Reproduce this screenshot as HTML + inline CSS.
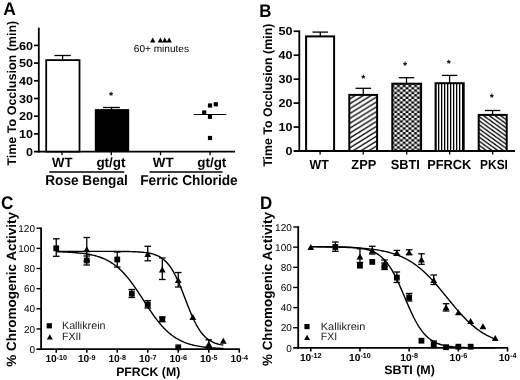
<!DOCTYPE html>
<html lang="en">
<head>
<meta charset="utf-8">
<title>Figure</title>
<style>
html,body{margin:0;padding:0;background:#fff;}
body{width:520px;height:380px;overflow:hidden;}
svg{display:block;filter:grayscale(1);}
text{text-rendering:geometricPrecision;}
</style>
</head>
<body>
<svg width="520" height="380" viewBox="0 0 520 380">
<rect x="0" y="0" width="520" height="380" fill="#fff"/>
<g opacity="0.999">
<defs>
<pattern id="pz" width="7.9" height="4.9" patternUnits="userSpaceOnUse" x="349.9" y="98.8">
<rect width="7.9" height="4.9" fill="#fff"/>
<path d="M-7.9,9.8 L15.8,-4.9 M-7.9,4.9 L7.9,-4.9 M0,9.8 L15.8,0" stroke="#000" stroke-width="1.4"/>
</pattern>
<pattern id="pk" width="5.7" height="4.1" patternUnits="userSpaceOnUse" x="479.7" y="117.0">
<rect width="5.7" height="4.1" fill="#fff"/>
<path d="M-5.7,-4.1 L11.4,8.2 M-5.7,0 L5.7,8.2 M0,-4.1 L11.4,4.1" stroke="#000" stroke-width="1.3"/>
</pattern>
<pattern id="pc" width="5.7" height="4.74" patternUnits="userSpaceOnUse" x="392.75" y="84.7">
<rect width="5.7" height="4.74" fill="#000"/>
<rect x="1.45" y="0" width="2.85" height="2.37" fill="#fff"/>
<rect x="4.3" y="2.37" width="1.4" height="2.37" fill="#fff"/>
<rect x="0" y="2.37" width="1.45" height="2.37" fill="#fff"/>
</pattern>
<pattern id="pv" width="3" height="4" patternUnits="userSpaceOnUse" x="438" y="0">
<rect width="3" height="4" fill="#fff"/>
<rect x="0" y="0" width="1.3" height="4" fill="#000"/>
</pattern>
</defs>
<text x="3.20" y="15.30" font-size="18.2" font-family="'Liberation Sans', sans-serif" font-weight="bold" text-anchor="start" fill="#000" textLength="12.6" lengthAdjust="spacingAndGlyphs">A</text>
<line x1="38.80" y1="27.70" x2="38.80" y2="152.50" stroke="#000" stroke-width="1.8" stroke-linecap="butt"/>
<line x1="34.00" y1="151.60" x2="235.00" y2="151.60" stroke="#000" stroke-width="1.8" stroke-linecap="butt"/>
<text x="33.00" y="155.70" font-size="11.6" font-family="'Liberation Sans', sans-serif" font-weight="bold" text-anchor="end" fill="#000" textLength="7.0" lengthAdjust="spacingAndGlyphs">0</text>
<line x1="34.00" y1="133.90" x2="38.80" y2="133.90" stroke="#000" stroke-width="1.7" stroke-linecap="butt"/>
<text x="33.00" y="138.00" font-size="11.6" font-family="'Liberation Sans', sans-serif" font-weight="bold" text-anchor="end" fill="#000" textLength="14.0" lengthAdjust="spacingAndGlyphs">10</text>
<line x1="34.00" y1="116.20" x2="38.80" y2="116.20" stroke="#000" stroke-width="1.7" stroke-linecap="butt"/>
<text x="33.00" y="120.30" font-size="11.6" font-family="'Liberation Sans', sans-serif" font-weight="bold" text-anchor="end" fill="#000" textLength="14.0" lengthAdjust="spacingAndGlyphs">20</text>
<line x1="34.00" y1="98.50" x2="38.80" y2="98.50" stroke="#000" stroke-width="1.7" stroke-linecap="butt"/>
<text x="33.00" y="102.60" font-size="11.6" font-family="'Liberation Sans', sans-serif" font-weight="bold" text-anchor="end" fill="#000" textLength="14.0" lengthAdjust="spacingAndGlyphs">30</text>
<line x1="34.00" y1="80.80" x2="38.80" y2="80.80" stroke="#000" stroke-width="1.7" stroke-linecap="butt"/>
<text x="33.00" y="84.90" font-size="11.6" font-family="'Liberation Sans', sans-serif" font-weight="bold" text-anchor="end" fill="#000" textLength="14.0" lengthAdjust="spacingAndGlyphs">40</text>
<line x1="34.00" y1="63.10" x2="38.80" y2="63.10" stroke="#000" stroke-width="1.7" stroke-linecap="butt"/>
<text x="33.00" y="67.20" font-size="11.6" font-family="'Liberation Sans', sans-serif" font-weight="bold" text-anchor="end" fill="#000" textLength="14.0" lengthAdjust="spacingAndGlyphs">50</text>
<line x1="34.00" y1="45.40" x2="38.80" y2="45.40" stroke="#000" stroke-width="1.7" stroke-linecap="butt"/>
<text x="33.00" y="49.50" font-size="11.6" font-family="'Liberation Sans', sans-serif" font-weight="bold" text-anchor="end" fill="#000" textLength="14.0" lengthAdjust="spacingAndGlyphs">60</text>
<text x="16.40" y="93.20" font-size="12.5" font-family="'Liberation Sans', sans-serif" font-weight="bold" text-anchor="middle" fill="#000" textLength="145" lengthAdjust="spacingAndGlyphs" transform="rotate(-90 16.40 93.20)">Time To Occlusion (min)</text>
<rect x="46.20" y="60.10" width="33.30" height="91.50" fill="#fff" stroke="#000" stroke-width="1.8"/>
<line x1="62.60" y1="55.50" x2="62.60" y2="60.10" stroke="#000" stroke-width="1.3" stroke-linecap="butt"/>
<line x1="54.40" y1="55.50" x2="70.80" y2="55.50" stroke="#000" stroke-width="1.3" stroke-linecap="butt"/>
<rect x="94.80" y="109.10" width="34.40" height="42.50" fill="#000"/>
<line x1="111.50" y1="107.50" x2="111.50" y2="109.60" stroke="#000" stroke-width="1.3" stroke-linecap="butt"/>
<line x1="103.10" y1="107.50" x2="119.90" y2="107.50" stroke="#000" stroke-width="1.3" stroke-linecap="butt"/>
<text x="111.00" y="98.70" font-size="10.5" font-family="'Liberation Sans', sans-serif" font-weight="bold" text-anchor="middle" fill="#000">*</text>
<line x1="62.00" y1="151.60" x2="62.00" y2="155.20" stroke="#000" stroke-width="1.3" stroke-linecap="butt"/>
<line x1="111.30" y1="151.60" x2="111.30" y2="155.20" stroke="#000" stroke-width="1.3" stroke-linecap="butt"/>
<line x1="160.50" y1="151.60" x2="160.50" y2="155.20" stroke="#000" stroke-width="1.3" stroke-linecap="butt"/>
<line x1="210.00" y1="151.60" x2="210.00" y2="155.20" stroke="#000" stroke-width="1.3" stroke-linecap="butt"/>
<text x="62.30" y="166.60" font-size="13.6" font-family="'Liberation Sans', sans-serif" font-weight="bold" text-anchor="middle" fill="#000" textLength="20.4" lengthAdjust="spacingAndGlyphs">WT</text>
<text x="111.00" y="166.60" font-size="13.6" font-family="'Liberation Sans', sans-serif" font-weight="bold" text-anchor="middle" fill="#000" textLength="29.2" lengthAdjust="spacingAndGlyphs">gt/gt</text>
<text x="163.20" y="166.60" font-size="13.6" font-family="'Liberation Sans', sans-serif" font-weight="bold" text-anchor="middle" fill="#000" textLength="20.8" lengthAdjust="spacingAndGlyphs">WT</text>
<text x="211.80" y="166.60" font-size="13.6" font-family="'Liberation Sans', sans-serif" font-weight="bold" text-anchor="middle" fill="#000" textLength="29.0" lengthAdjust="spacingAndGlyphs">gt/gt</text>
<line x1="49.30" y1="172.10" x2="124.30" y2="172.10" stroke="#000" stroke-width="1.5" stroke-linecap="butt"/>
<line x1="149.50" y1="172.10" x2="222.50" y2="172.10" stroke="#000" stroke-width="1.5" stroke-linecap="butt"/>
<text x="86.50" y="185.30" font-size="14.2" font-family="'Liberation Sans', sans-serif" font-weight="bold" text-anchor="middle" fill="#000" textLength="82.5" lengthAdjust="spacingAndGlyphs">Rose Bengal</text>
<text x="189.00" y="185.30" font-size="14.2" font-family="'Liberation Sans', sans-serif" font-weight="bold" text-anchor="middle" fill="#000" textLength="97.5" lengthAdjust="spacingAndGlyphs">Ferric Chloride</text>
<polygon points="150.00,42.40 155.40,42.40 152.70,37.40" fill="#000"/>
<polygon points="157.70,42.40 163.10,42.40 160.40,37.40" fill="#000"/>
<polygon points="162.10,42.40 167.50,42.40 164.80,37.40" fill="#000"/>
<polygon points="166.50,42.40 171.90,42.40 169.20,37.40" fill="#000"/>
<text x="133.80" y="52.00" font-size="10" font-family="'Liberation Sans', sans-serif" text-anchor="start" fill="#000" textLength="55.2" lengthAdjust="spacingAndGlyphs">60+ minutes</text>
<rect x="207.90" y="103.40" width="4.20" height="4.20" fill="#000"/>
<rect x="213.70" y="102.20" width="4.20" height="4.20" fill="#000"/>
<rect x="202.10" y="110.40" width="4.20" height="4.20" fill="#000"/>
<rect x="207.90" y="114.70" width="4.20" height="4.20" fill="#000"/>
<rect x="207.90" y="135.90" width="4.20" height="4.20" fill="#000"/>
<line x1="193.80" y1="114.50" x2="226.20" y2="114.50" stroke="#000" stroke-width="1.2" stroke-linecap="butt"/>
<text x="259.30" y="16.80" font-size="18.2" font-family="'Liberation Sans', sans-serif" font-weight="bold" text-anchor="start" fill="#000" textLength="12.2" lengthAdjust="spacingAndGlyphs">B</text>
<line x1="299.30" y1="30.40" x2="299.30" y2="151.90" stroke="#000" stroke-width="1.8" stroke-linecap="butt"/>
<line x1="293.60" y1="151.00" x2="515.00" y2="151.00" stroke="#000" stroke-width="1.8" stroke-linecap="butt"/>
<text x="292.60" y="154.90" font-size="11.6" font-family="'Liberation Sans', sans-serif" font-weight="bold" text-anchor="end" fill="#000" textLength="7.0" lengthAdjust="spacingAndGlyphs">0</text>
<line x1="293.60" y1="127.05" x2="299.30" y2="127.05" stroke="#000" stroke-width="1.7" stroke-linecap="butt"/>
<text x="292.60" y="130.95" font-size="11.6" font-family="'Liberation Sans', sans-serif" font-weight="bold" text-anchor="end" fill="#000" textLength="14.0" lengthAdjust="spacingAndGlyphs">10</text>
<line x1="293.60" y1="103.10" x2="299.30" y2="103.10" stroke="#000" stroke-width="1.7" stroke-linecap="butt"/>
<text x="292.60" y="107.00" font-size="11.6" font-family="'Liberation Sans', sans-serif" font-weight="bold" text-anchor="end" fill="#000" textLength="14.0" lengthAdjust="spacingAndGlyphs">20</text>
<line x1="293.60" y1="79.15" x2="299.30" y2="79.15" stroke="#000" stroke-width="1.7" stroke-linecap="butt"/>
<text x="292.60" y="83.05" font-size="11.6" font-family="'Liberation Sans', sans-serif" font-weight="bold" text-anchor="end" fill="#000" textLength="14.0" lengthAdjust="spacingAndGlyphs">30</text>
<line x1="293.60" y1="55.20" x2="299.30" y2="55.20" stroke="#000" stroke-width="1.7" stroke-linecap="butt"/>
<text x="292.60" y="59.10" font-size="11.6" font-family="'Liberation Sans', sans-serif" font-weight="bold" text-anchor="end" fill="#000" textLength="14.0" lengthAdjust="spacingAndGlyphs">40</text>
<line x1="293.60" y1="31.25" x2="299.30" y2="31.25" stroke="#000" stroke-width="1.7" stroke-linecap="butt"/>
<text x="292.60" y="35.15" font-size="11.6" font-family="'Liberation Sans', sans-serif" font-weight="bold" text-anchor="end" fill="#000" textLength="14.0" lengthAdjust="spacingAndGlyphs">50</text>
<text x="272.00" y="95.20" font-size="12.5" font-family="'Liberation Sans', sans-serif" font-weight="bold" text-anchor="middle" fill="#000" textLength="143" lengthAdjust="spacingAndGlyphs" transform="rotate(-90 272.00 95.20)">Time To Occlusion (min)</text>
<rect x="306.10" y="36.40" width="28.00" height="114.60" fill="#fff" stroke="#000" stroke-width="2.0"/>
<line x1="320.30" y1="32.10" x2="320.30" y2="36.40" stroke="#000" stroke-width="1.3" stroke-linecap="butt"/>
<line x1="312.55" y1="32.10" x2="328.05" y2="32.10" stroke="#000" stroke-width="1.3" stroke-linecap="butt"/>
<line x1="320.10" y1="151.00" x2="320.10" y2="154.60" stroke="#000" stroke-width="1.3" stroke-linecap="butt"/>
<text x="319.20" y="169.00" font-size="13.2" font-family="'Liberation Sans', sans-serif" font-weight="bold" text-anchor="middle" fill="#000" textLength="19.2" lengthAdjust="spacingAndGlyphs">WT</text>
<rect x="349.30" y="94.90" width="27.80" height="56.10" fill="url(#pz)" stroke="#000" stroke-width="2.0"/>
<line x1="363.30" y1="88.30" x2="363.30" y2="94.90" stroke="#000" stroke-width="1.3" stroke-linecap="butt"/>
<line x1="355.55" y1="88.30" x2="371.05" y2="88.30" stroke="#000" stroke-width="1.3" stroke-linecap="butt"/>
<line x1="363.20" y1="151.00" x2="363.20" y2="154.60" stroke="#000" stroke-width="1.3" stroke-linecap="butt"/>
<text x="363.30" y="81.60" font-size="10.5" font-family="'Liberation Sans', sans-serif" font-weight="bold" text-anchor="middle" fill="#000">*</text>
<text x="363.80" y="169.00" font-size="13.2" font-family="'Liberation Sans', sans-serif" font-weight="bold" text-anchor="middle" fill="#000" textLength="25.0" lengthAdjust="spacingAndGlyphs">ZPP</text>
<rect x="392.30" y="83.70" width="28.80" height="67.30" fill="url(#pc)" stroke="#000" stroke-width="2.0"/>
<line x1="406.50" y1="77.70" x2="406.50" y2="83.70" stroke="#000" stroke-width="1.3" stroke-linecap="butt"/>
<line x1="398.75" y1="77.70" x2="414.25" y2="77.70" stroke="#000" stroke-width="1.3" stroke-linecap="butt"/>
<line x1="406.70" y1="151.00" x2="406.70" y2="154.60" stroke="#000" stroke-width="1.3" stroke-linecap="butt"/>
<text x="405.00" y="68.60" font-size="10.5" font-family="'Liberation Sans', sans-serif" font-weight="bold" text-anchor="middle" fill="#000">*</text>
<text x="405.30" y="169.00" font-size="13.2" font-family="'Liberation Sans', sans-serif" font-weight="bold" text-anchor="middle" fill="#000" textLength="29.2" lengthAdjust="spacingAndGlyphs">SBTI</text>
<rect x="435.60" y="83.20" width="28.10" height="67.80" fill="url(#pv)" stroke="#000" stroke-width="2.0"/>
<line x1="449.60" y1="75.40" x2="449.60" y2="83.20" stroke="#000" stroke-width="1.3" stroke-linecap="butt"/>
<line x1="441.85" y1="75.40" x2="457.35" y2="75.40" stroke="#000" stroke-width="1.3" stroke-linecap="butt"/>
<line x1="449.65" y1="151.00" x2="449.65" y2="154.60" stroke="#000" stroke-width="1.3" stroke-linecap="butt"/>
<text x="448.80" y="66.60" font-size="10.5" font-family="'Liberation Sans', sans-serif" font-weight="bold" text-anchor="middle" fill="#000">*</text>
<text x="449.30" y="169.00" font-size="13.2" font-family="'Liberation Sans', sans-serif" font-weight="bold" text-anchor="middle" fill="#000" textLength="44.2" lengthAdjust="spacingAndGlyphs">PFRCK</text>
<rect x="478.70" y="114.90" width="28.00" height="36.10" fill="url(#pk)" stroke="#000" stroke-width="2.0"/>
<line x1="492.60" y1="110.50" x2="492.60" y2="114.90" stroke="#000" stroke-width="1.3" stroke-linecap="butt"/>
<line x1="484.85" y1="110.50" x2="500.35" y2="110.50" stroke="#000" stroke-width="1.3" stroke-linecap="butt"/>
<line x1="492.70" y1="151.00" x2="492.70" y2="154.60" stroke="#000" stroke-width="1.3" stroke-linecap="butt"/>
<text x="491.80" y="101.40" font-size="10.5" font-family="'Liberation Sans', sans-serif" font-weight="bold" text-anchor="middle" fill="#000">*</text>
<text x="494.00" y="169.00" font-size="13.2" font-family="'Liberation Sans', sans-serif" font-weight="bold" text-anchor="middle" fill="#000" textLength="27.8" lengthAdjust="spacingAndGlyphs">PKSI</text>
<text x="1.10" y="208.90" font-size="18.3" font-family="'Liberation Sans', sans-serif" font-weight="bold" text-anchor="start" fill="#000" textLength="12.4" lengthAdjust="spacingAndGlyphs">C</text>
<line x1="41.10" y1="227.40" x2="41.10" y2="350.00" stroke="#000" stroke-width="1.8" stroke-linecap="butt"/>
<line x1="36.50" y1="349.10" x2="239.90" y2="349.10" stroke="#000" stroke-width="1.8" stroke-linecap="butt"/>
<text x="35.00" y="352.70" font-size="10" font-family="'Liberation Sans', sans-serif" text-anchor="end" fill="#000">0</text>
<line x1="36.50" y1="328.95" x2="41.10" y2="328.95" stroke="#000" stroke-width="1.4" stroke-linecap="butt"/>
<text x="35.00" y="332.55" font-size="10" font-family="'Liberation Sans', sans-serif" text-anchor="end" fill="#000">20</text>
<line x1="36.50" y1="308.80" x2="41.10" y2="308.80" stroke="#000" stroke-width="1.4" stroke-linecap="butt"/>
<text x="35.00" y="312.40" font-size="10" font-family="'Liberation Sans', sans-serif" text-anchor="end" fill="#000">40</text>
<line x1="36.50" y1="288.65" x2="41.10" y2="288.65" stroke="#000" stroke-width="1.4" stroke-linecap="butt"/>
<text x="35.00" y="292.25" font-size="10" font-family="'Liberation Sans', sans-serif" text-anchor="end" fill="#000">60</text>
<line x1="36.50" y1="268.50" x2="41.10" y2="268.50" stroke="#000" stroke-width="1.4" stroke-linecap="butt"/>
<text x="35.00" y="272.10" font-size="10" font-family="'Liberation Sans', sans-serif" text-anchor="end" fill="#000">80</text>
<line x1="36.50" y1="248.35" x2="41.10" y2="248.35" stroke="#000" stroke-width="1.4" stroke-linecap="butt"/>
<text x="35.00" y="251.95" font-size="10" font-family="'Liberation Sans', sans-serif" text-anchor="end" fill="#000">100</text>
<line x1="36.50" y1="228.20" x2="41.10" y2="228.20" stroke="#000" stroke-width="1.4" stroke-linecap="butt"/>
<text x="35.00" y="231.80" font-size="10" font-family="'Liberation Sans', sans-serif" text-anchor="end" fill="#000">120</text>
<text x="15.60" y="289.30" font-size="13.5" font-family="'Liberation Sans', sans-serif" font-weight="bold" text-anchor="middle" fill="#000" textLength="154.7" lengthAdjust="spacingAndGlyphs" transform="rotate(-90 15.60 289.30)">% Chromogenic Activity</text>
<line x1="56.25" y1="349.10" x2="56.25" y2="352.70" stroke="#000" stroke-width="1.6" stroke-linecap="butt"/>
<text x="45.38" y="362.40" font-size="10.2" font-family="'Liberation Sans', sans-serif" font-weight="bold" fill="#000">10<tspan font-size="7.2" dy="-2.9">-10</tspan></text>
<line x1="86.75" y1="349.10" x2="86.75" y2="352.70" stroke="#000" stroke-width="1.6" stroke-linecap="butt"/>
<text x="77.88" y="362.40" font-size="10.2" font-family="'Liberation Sans', sans-serif" font-weight="bold" fill="#000">10<tspan font-size="7.2" dy="-2.9">-9</tspan></text>
<line x1="117.25" y1="349.10" x2="117.25" y2="352.70" stroke="#000" stroke-width="1.6" stroke-linecap="butt"/>
<text x="108.38" y="362.40" font-size="10.2" font-family="'Liberation Sans', sans-serif" font-weight="bold" fill="#000">10<tspan font-size="7.2" dy="-2.9">-8</tspan></text>
<line x1="147.75" y1="349.10" x2="147.75" y2="352.70" stroke="#000" stroke-width="1.6" stroke-linecap="butt"/>
<text x="138.88" y="362.40" font-size="10.2" font-family="'Liberation Sans', sans-serif" font-weight="bold" fill="#000">10<tspan font-size="7.2" dy="-2.9">-7</tspan></text>
<line x1="178.25" y1="349.10" x2="178.25" y2="352.70" stroke="#000" stroke-width="1.6" stroke-linecap="butt"/>
<text x="169.38" y="362.40" font-size="10.2" font-family="'Liberation Sans', sans-serif" font-weight="bold" fill="#000">10<tspan font-size="7.2" dy="-2.9">-6</tspan></text>
<line x1="208.75" y1="349.10" x2="208.75" y2="352.70" stroke="#000" stroke-width="1.6" stroke-linecap="butt"/>
<text x="199.88" y="362.40" font-size="10.2" font-family="'Liberation Sans', sans-serif" font-weight="bold" fill="#000">10<tspan font-size="7.2" dy="-2.9">-5</tspan></text>
<line x1="239.25" y1="349.10" x2="239.25" y2="352.70" stroke="#000" stroke-width="1.6" stroke-linecap="butt"/>
<text x="230.38" y="362.40" font-size="10.2" font-family="'Liberation Sans', sans-serif" font-weight="bold" fill="#000">10<tspan font-size="7.2" dy="-2.9">-4</tspan></text>
<text x="148.20" y="375.80" font-size="12.3" font-family="'Liberation Sans', sans-serif" font-weight="bold" text-anchor="middle" fill="#000" textLength="64.1" lengthAdjust="spacingAndGlyphs">PFRCK (M)</text>
<rect x="46.70" y="323.20" width="5.20" height="5.20" fill="#000"/>
<polygon points="46.80,339.40 52.80,339.40 49.80,334.20" fill="#000"/>
<text x="62.00" y="329.20" font-size="10.5" font-family="'Liberation Sans', sans-serif" text-anchor="start" fill="#222" textLength="43.5" lengthAdjust="spacingAndGlyphs">Kallikrein</text>
<text x="62.00" y="340.10" font-size="10.5" font-family="'Liberation Sans', sans-serif" text-anchor="start" fill="#222">FXII</text>
<polyline points="56.25,251.76 57.64,251.79 59.04,251.83 60.43,251.87 61.82,251.92 63.21,251.97 64.61,252.03 66.00,252.09 67.39,252.15 68.79,252.22 70.18,252.30 71.57,252.38 72.96,252.48 74.36,252.58 75.75,252.69 77.14,252.81 78.54,252.94 79.93,253.08 81.32,253.23 82.71,253.40 84.11,253.58 85.50,253.78 86.89,254.00 88.29,254.24 89.68,254.49 91.07,254.77 92.46,255.07 93.86,255.40 95.25,255.76 96.64,256.14 98.04,256.56 99.43,257.01 100.82,257.50 102.21,258.02 103.61,258.59 105.00,259.21 106.39,259.87 107.78,260.58 109.18,261.34 110.57,262.16 111.96,263.04 113.36,263.97 114.75,264.98 116.14,266.04 117.53,267.18 118.93,268.38 120.32,269.66 121.71,271.01 123.11,272.43 124.50,273.93 125.89,275.50 127.28,277.14 128.68,278.85 130.07,280.63 131.46,282.47 132.86,284.37 134.25,286.33 135.64,288.34 137.03,290.39 138.43,292.47 139.82,294.59 141.21,296.73 142.61,298.88 144.00,301.04 145.39,303.19 146.78,305.34 148.18,307.46 149.57,309.56 150.96,311.62 152.36,313.64 153.75,315.61 155.14,317.52 156.53,319.38 157.93,321.18 159.32,322.90 160.71,324.56 162.11,326.15 163.50,327.66 164.89,329.10 166.28,330.47 167.68,331.77 169.07,332.99 170.46,334.15 171.86,335.23 173.25,336.25 174.64,337.20 176.03,338.10 177.43,338.93 178.82,339.71 180.21,340.43 181.61,341.10 183.00,341.73 184.39,342.31 185.78,342.85 187.18,343.34 188.57,343.80 189.96,344.23 191.35,344.62 192.75,344.98 194.14,345.32 195.53,345.63 196.93,345.91 198.32,346.17 199.71,346.41 201.10,346.63 202.50,346.84 203.89,347.03 205.28,347.20 206.68,347.36 208.07,347.50 209.46,347.63 210.85,347.76 212.25,347.87 213.64,347.97 215.03,348.07 216.43,348.15 217.82,348.23 219.21,348.30 220.60,348.37 222.00,348.43 223.39,348.49" fill="none" stroke="#000" stroke-width="1.4"/>
<polyline points="56.25,251.37 57.64,251.37 59.04,251.37 60.43,251.37 61.82,251.37 63.21,251.37 64.61,251.37 66.00,251.37 67.39,251.37 68.79,251.37 70.18,251.37 71.57,251.37 72.96,251.37 74.36,251.37 75.75,251.37 77.14,251.37 78.54,251.37 79.93,251.37 81.32,251.37 82.71,251.37 84.11,251.37 85.50,251.37 86.89,251.37 88.29,251.37 89.68,251.38 91.07,251.38 92.46,251.38 93.86,251.38 95.25,251.38 96.64,251.38 98.04,251.38 99.43,251.38 100.82,251.38 102.21,251.38 103.61,251.38 105.00,251.39 106.39,251.39 107.78,251.39 109.18,251.40 110.57,251.40 111.96,251.40 113.36,251.41 114.75,251.41 116.14,251.42 117.53,251.43 118.93,251.44 120.32,251.45 121.71,251.46 123.11,251.48 124.50,251.50 125.89,251.52 127.28,251.54 128.68,251.57 130.07,251.60 131.46,251.64 132.86,251.68 134.25,251.73 135.64,251.79 137.03,251.86 138.43,251.93 139.82,252.03 141.21,252.13 142.61,252.26 144.00,252.40 145.39,252.57 146.78,252.76 148.18,252.99 149.57,253.25 150.96,253.55 152.36,253.90 153.75,254.30 155.14,254.77 156.53,255.30 157.93,255.92 159.32,256.63 160.71,257.44 162.11,258.36 163.50,259.42 164.89,260.61 166.28,261.97 167.68,263.49 169.07,265.20 170.46,267.10 171.86,269.20 173.25,271.52 174.64,274.04 176.03,276.78 177.43,279.72 178.82,282.85 180.21,286.14 181.61,289.57 183.00,293.10 184.39,296.70 185.78,300.33 187.18,303.94 188.57,307.49 189.96,310.95 191.35,314.28 192.75,317.45 194.14,320.44 195.53,323.23 196.93,325.81 198.32,328.18 199.71,330.34 201.10,332.29 202.50,334.05 203.89,335.61 205.28,337.01 206.68,338.24 208.07,339.33 209.46,340.29 210.85,341.13 212.25,341.86 213.64,342.50 215.03,343.06 216.43,343.54 217.82,343.96 219.21,344.32 220.60,344.63 222.00,344.90 223.39,345.14" fill="none" stroke="#000" stroke-width="1.4"/>
<line x1="56.25" y1="238.80" x2="56.25" y2="256.30" stroke="#000" stroke-width="1.3" stroke-linecap="butt"/>
<line x1="52.95" y1="238.80" x2="59.55" y2="238.80" stroke="#000" stroke-width="1.3" stroke-linecap="butt"/>
<line x1="52.95" y1="256.30" x2="59.55" y2="256.30" stroke="#000" stroke-width="1.3" stroke-linecap="butt"/>
<rect x="53.35" y="245.40" width="5.80" height="5.80" fill="#000"/>
<line x1="86.75" y1="256.00" x2="86.75" y2="265.00" stroke="#000" stroke-width="1.3" stroke-linecap="butt"/>
<line x1="83.45" y1="256.00" x2="90.05" y2="256.00" stroke="#000" stroke-width="1.3" stroke-linecap="butt"/>
<line x1="83.45" y1="265.00" x2="90.05" y2="265.00" stroke="#000" stroke-width="1.3" stroke-linecap="butt"/>
<rect x="83.85" y="257.60" width="5.80" height="5.80" fill="#000"/>
<line x1="117.25" y1="252.00" x2="117.25" y2="267.00" stroke="#000" stroke-width="1.3" stroke-linecap="butt"/>
<line x1="113.95" y1="252.00" x2="120.55" y2="252.00" stroke="#000" stroke-width="1.3" stroke-linecap="butt"/>
<line x1="113.95" y1="267.00" x2="120.55" y2="267.00" stroke="#000" stroke-width="1.3" stroke-linecap="butt"/>
<rect x="114.35" y="256.60" width="5.80" height="5.80" fill="#000"/>
<line x1="131.80" y1="289.50" x2="131.80" y2="297.50" stroke="#000" stroke-width="1.3" stroke-linecap="butt"/>
<line x1="128.50" y1="289.50" x2="135.10" y2="289.50" stroke="#000" stroke-width="1.3" stroke-linecap="butt"/>
<line x1="128.50" y1="297.50" x2="135.10" y2="297.50" stroke="#000" stroke-width="1.3" stroke-linecap="butt"/>
<rect x="128.90" y="290.80" width="5.80" height="5.80" fill="#000"/>
<line x1="147.75" y1="300.60" x2="147.75" y2="308.00" stroke="#000" stroke-width="1.3" stroke-linecap="butt"/>
<line x1="144.45" y1="300.60" x2="151.05" y2="300.60" stroke="#000" stroke-width="1.3" stroke-linecap="butt"/>
<line x1="144.45" y1="308.00" x2="151.05" y2="308.00" stroke="#000" stroke-width="1.3" stroke-linecap="butt"/>
<rect x="144.85" y="301.60" width="5.80" height="5.80" fill="#000"/>
<line x1="162.30" y1="317.00" x2="162.30" y2="321.60" stroke="#000" stroke-width="1.3" stroke-linecap="butt"/>
<line x1="159.00" y1="317.00" x2="165.60" y2="317.00" stroke="#000" stroke-width="1.3" stroke-linecap="butt"/>
<line x1="159.00" y1="321.60" x2="165.60" y2="321.60" stroke="#000" stroke-width="1.3" stroke-linecap="butt"/>
<rect x="159.40" y="316.40" width="5.80" height="5.80" fill="#000"/>
<rect x="175.35" y="344.40" width="5.80" height="5.80" fill="#000"/>
<line x1="86.75" y1="237.50" x2="86.75" y2="261.00" stroke="#000" stroke-width="1.3" stroke-linecap="butt"/>
<line x1="83.45" y1="237.50" x2="90.05" y2="237.50" stroke="#000" stroke-width="1.3" stroke-linecap="butt"/>
<line x1="83.45" y1="261.00" x2="90.05" y2="261.00" stroke="#000" stroke-width="1.3" stroke-linecap="butt"/>
<polygon points="83.35,252.30 90.15,252.30 86.75,246.30" fill="#000"/>
<line x1="147.75" y1="246.30" x2="147.75" y2="260.80" stroke="#000" stroke-width="1.3" stroke-linecap="butt"/>
<line x1="144.45" y1="246.30" x2="151.05" y2="246.30" stroke="#000" stroke-width="1.3" stroke-linecap="butt"/>
<line x1="144.45" y1="260.80" x2="151.05" y2="260.80" stroke="#000" stroke-width="1.3" stroke-linecap="butt"/>
<polygon points="144.35,257.00 151.15,257.00 147.75,251.00" fill="#000"/>
<line x1="162.30" y1="258.00" x2="162.30" y2="279.50" stroke="#000" stroke-width="1.3" stroke-linecap="butt"/>
<line x1="159.00" y1="258.00" x2="165.60" y2="258.00" stroke="#000" stroke-width="1.3" stroke-linecap="butt"/>
<line x1="159.00" y1="279.50" x2="165.60" y2="279.50" stroke="#000" stroke-width="1.3" stroke-linecap="butt"/>
<polygon points="158.90,272.50 165.70,272.50 162.30,266.50" fill="#000"/>
<line x1="178.25" y1="272.50" x2="178.25" y2="287.00" stroke="#000" stroke-width="1.3" stroke-linecap="butt"/>
<line x1="174.95" y1="272.50" x2="181.55" y2="272.50" stroke="#000" stroke-width="1.3" stroke-linecap="butt"/>
<line x1="174.95" y1="287.00" x2="181.55" y2="287.00" stroke="#000" stroke-width="1.3" stroke-linecap="butt"/>
<polygon points="174.85,283.00 181.65,283.00 178.25,277.00" fill="#000"/>
<polygon points="189.40,320.00 196.20,320.00 192.80,314.00" fill="#000"/>
<line x1="208.75" y1="339.80" x2="208.75" y2="348.00" stroke="#000" stroke-width="1.3" stroke-linecap="butt"/>
<line x1="205.45" y1="339.80" x2="212.05" y2="339.80" stroke="#000" stroke-width="1.3" stroke-linecap="butt"/>
<line x1="205.45" y1="348.00" x2="212.05" y2="348.00" stroke="#000" stroke-width="1.3" stroke-linecap="butt"/>
<polygon points="205.35,347.00 212.15,347.00 208.75,341.00" fill="#000"/>
<polygon points="219.90,343.80 226.70,343.80 223.30,337.80" fill="#000"/>
<text x="259.90" y="208.80" font-size="18.3" font-family="'Liberation Sans', sans-serif" font-weight="bold" text-anchor="start" fill="#000" textLength="12.2" lengthAdjust="spacingAndGlyphs">D</text>
<line x1="298.20" y1="226.20" x2="298.20" y2="348.80" stroke="#000" stroke-width="1.8" stroke-linecap="butt"/>
<line x1="293.20" y1="347.90" x2="508.10" y2="347.90" stroke="#000" stroke-width="1.8" stroke-linecap="butt"/>
<text x="291.80" y="351.50" font-size="10" font-family="'Liberation Sans', sans-serif" text-anchor="end" fill="#000">0</text>
<line x1="293.20" y1="327.75" x2="298.20" y2="327.75" stroke="#000" stroke-width="1.4" stroke-linecap="butt"/>
<text x="291.80" y="331.35" font-size="10" font-family="'Liberation Sans', sans-serif" text-anchor="end" fill="#000">20</text>
<line x1="293.20" y1="307.60" x2="298.20" y2="307.60" stroke="#000" stroke-width="1.4" stroke-linecap="butt"/>
<text x="291.80" y="311.20" font-size="10" font-family="'Liberation Sans', sans-serif" text-anchor="end" fill="#000">40</text>
<line x1="293.20" y1="287.45" x2="298.20" y2="287.45" stroke="#000" stroke-width="1.4" stroke-linecap="butt"/>
<text x="291.80" y="291.05" font-size="10" font-family="'Liberation Sans', sans-serif" text-anchor="end" fill="#000">60</text>
<line x1="293.20" y1="267.30" x2="298.20" y2="267.30" stroke="#000" stroke-width="1.4" stroke-linecap="butt"/>
<text x="291.80" y="270.90" font-size="10" font-family="'Liberation Sans', sans-serif" text-anchor="end" fill="#000">80</text>
<line x1="293.20" y1="247.15" x2="298.20" y2="247.15" stroke="#000" stroke-width="1.4" stroke-linecap="butt"/>
<text x="291.80" y="250.75" font-size="10" font-family="'Liberation Sans', sans-serif" text-anchor="end" fill="#000">100</text>
<line x1="293.20" y1="227.00" x2="298.20" y2="227.00" stroke="#000" stroke-width="1.4" stroke-linecap="butt"/>
<text x="291.80" y="230.60" font-size="10" font-family="'Liberation Sans', sans-serif" text-anchor="end" fill="#000">120</text>
<text x="272.30" y="289.00" font-size="13.5" font-family="'Liberation Sans', sans-serif" font-weight="bold" text-anchor="middle" fill="#000" textLength="154.1" lengthAdjust="spacingAndGlyphs" transform="rotate(-90 272.30 289.00)">% Chromogenic Activity</text>
<line x1="310.75" y1="347.90" x2="310.75" y2="351.50" stroke="#000" stroke-width="1.6" stroke-linecap="butt"/>
<text x="299.88" y="361.20" font-size="10.2" font-family="'Liberation Sans', sans-serif" font-weight="bold" fill="#000">10<tspan font-size="7.2" dy="-2.9">-12</tspan></text>
<line x1="359.95" y1="347.90" x2="359.95" y2="351.50" stroke="#000" stroke-width="1.6" stroke-linecap="butt"/>
<text x="349.08" y="361.20" font-size="10.2" font-family="'Liberation Sans', sans-serif" font-weight="bold" fill="#000">10<tspan font-size="7.2" dy="-2.9">-10</tspan></text>
<line x1="409.15" y1="347.90" x2="409.15" y2="351.50" stroke="#000" stroke-width="1.6" stroke-linecap="butt"/>
<text x="400.28" y="361.20" font-size="10.2" font-family="'Liberation Sans', sans-serif" font-weight="bold" fill="#000">10<tspan font-size="7.2" dy="-2.9">-8</tspan></text>
<line x1="458.35" y1="347.90" x2="458.35" y2="351.50" stroke="#000" stroke-width="1.6" stroke-linecap="butt"/>
<text x="449.48" y="361.20" font-size="10.2" font-family="'Liberation Sans', sans-serif" font-weight="bold" fill="#000">10<tspan font-size="7.2" dy="-2.9">-6</tspan></text>
<line x1="507.55" y1="347.90" x2="507.55" y2="351.50" stroke="#000" stroke-width="1.6" stroke-linecap="butt"/>
<text x="498.68" y="361.20" font-size="10.2" font-family="'Liberation Sans', sans-serif" font-weight="bold" fill="#000">10<tspan font-size="7.2" dy="-2.9">-4</tspan></text>
<text x="409.60" y="374.20" font-size="12.3" font-family="'Liberation Sans', sans-serif" font-weight="bold" text-anchor="middle" fill="#000" textLength="50.6" lengthAdjust="spacingAndGlyphs">SBTI (M)</text>
<rect x="304.40" y="324.00" width="5.20" height="5.20" fill="#000"/>
<polygon points="304.10,339.90 310.10,339.90 307.10,334.70" fill="#000"/>
<text x="320.80" y="330.00" font-size="10.5" font-family="'Liberation Sans', sans-serif" text-anchor="start" fill="#222" textLength="44.5" lengthAdjust="spacingAndGlyphs">Kallikrein</text>
<text x="320.80" y="340.30" font-size="10.5" font-family="'Liberation Sans', sans-serif" text-anchor="start" fill="#222">FXI</text>
<polyline points="310.75,246.66 312.29,246.66 313.82,246.67 315.36,246.67 316.90,246.67 318.44,246.68 319.98,246.68 321.51,246.69 323.05,246.69 324.59,246.70 326.12,246.71 327.66,246.72 329.20,246.73 330.74,246.75 332.27,246.76 333.81,246.78 335.35,246.80 336.89,246.82 338.43,246.85 339.96,246.88 341.50,246.92 343.04,246.96 344.57,247.01 346.11,247.06 347.65,247.13 349.19,247.20 350.73,247.29 352.26,247.39 353.80,247.50 355.34,247.63 356.88,247.78 358.41,247.96 359.95,248.16 361.49,248.39 363.02,248.65 364.56,248.95 366.10,249.30 367.64,249.70 369.18,250.15 370.71,250.68 372.25,251.27 373.79,251.95 375.32,252.72 376.86,253.60 378.40,254.59 379.94,255.71 381.48,256.97 383.01,258.38 384.55,259.96 386.09,261.71 387.62,263.65 389.16,265.79 390.70,268.12 392.24,270.66 393.77,273.39 395.31,276.32 396.85,279.42 398.39,282.69 399.93,286.09 401.46,289.61 403.00,293.20 404.54,296.84 406.07,300.47 407.61,304.08 409.15,307.62 410.69,311.05 412.23,314.35 413.76,317.50 415.30,320.47 416.84,323.25 418.38,325.84 419.91,328.22 421.45,330.40 422.99,332.39 424.52,334.18 426.06,335.80 427.60,337.25 429.14,338.55 430.68,339.70 432.21,340.72 433.75,341.62 435.29,342.42 436.82,343.12 438.36,343.73 439.90,344.27 441.44,344.74 442.98,345.16 444.51,345.51 446.05,345.83 447.59,346.10 449.12,346.34 450.66,346.54 452.20,346.72 453.74,346.88 455.27,347.02 456.81,347.13 458.35,347.24 459.89,347.32 461.43,347.40 462.96,347.47 464.50,347.53 466.04,347.58 467.58,347.62 469.11,347.66 470.65,347.69 472.19,347.72 473.73,347.74 475.26,347.76 476.80,347.78 478.34,347.80 479.88,347.81 481.41,347.82 482.95,347.83 484.49,347.84 486.02,347.85 487.56,347.86 489.10,347.86 490.64,347.87 492.18,347.87 493.71,347.88 495.25,347.88" fill="none" stroke="#000" stroke-width="1.4"/>
<polyline points="310.75,246.78 312.29,246.79 313.82,246.80 315.36,246.81 316.90,246.83 318.44,246.84 319.98,246.86 321.51,246.87 323.05,246.89 324.59,246.91 326.12,246.93 327.66,246.95 329.20,246.98 330.74,247.00 332.27,247.03 333.81,247.06 335.35,247.09 336.89,247.13 338.43,247.16 339.96,247.20 341.50,247.24 343.04,247.29 344.57,247.34 346.11,247.39 347.65,247.45 349.19,247.51 350.73,247.58 352.26,247.65 353.80,247.73 355.34,247.81 356.88,247.90 358.41,248.00 359.95,248.10 361.49,248.21 363.02,248.33 364.56,248.46 366.10,248.60 367.64,248.75 369.18,248.91 370.71,249.08 372.25,249.27 373.79,249.46 375.32,249.68 376.86,249.91 378.40,250.15 379.94,250.41 381.48,250.69 383.01,250.99 384.55,251.32 386.09,251.66 387.62,252.03 389.16,252.42 390.70,252.85 392.24,253.30 393.77,253.78 395.31,254.29 396.85,254.83 398.39,255.42 399.93,256.03 401.46,256.69 403.00,257.39 404.54,258.13 406.07,258.91 407.61,259.74 409.15,260.62 410.69,261.55 412.23,262.52 413.76,263.55 415.30,264.63 416.84,265.76 418.38,266.95 419.91,268.19 421.45,269.49 422.99,270.84 424.52,272.25 426.06,273.70 427.60,275.21 429.14,276.77 430.68,278.38 432.21,280.03 433.75,281.73 435.29,283.46 436.82,285.23 438.36,287.04 439.90,288.87 441.44,290.72 442.98,292.59 444.51,294.47 446.05,296.36 447.59,298.26 449.12,300.15 450.66,302.03 452.20,303.90 453.74,305.75 455.27,307.58 456.81,309.38 458.35,311.15 459.89,312.89 461.43,314.58 462.96,316.23 464.50,317.84 466.04,319.39 467.58,320.90 469.11,322.36 470.65,323.76 472.19,325.11 473.73,326.40 475.26,327.64 476.80,328.83 478.34,329.96 479.88,331.04 481.41,332.06 482.95,333.04 484.49,333.96 486.02,334.84 487.56,335.67 489.10,336.45 490.64,337.19 492.18,337.88 493.71,338.54 495.25,339.15" fill="none" stroke="#000" stroke-width="1.4"/>
<line x1="335.35" y1="242.00" x2="335.35" y2="251.30" stroke="#000" stroke-width="1.3" stroke-linecap="butt"/>
<line x1="332.05" y1="242.00" x2="338.65" y2="242.00" stroke="#000" stroke-width="1.3" stroke-linecap="butt"/>
<line x1="332.05" y1="251.30" x2="338.65" y2="251.30" stroke="#000" stroke-width="1.3" stroke-linecap="butt"/>
<rect x="332.45" y="244.10" width="5.80" height="5.80" fill="#000"/>
<rect x="357.05" y="262.80" width="5.80" height="5.80" fill="#000"/>
<rect x="369.35" y="259.00" width="5.80" height="5.80" fill="#000"/>
<line x1="384.55" y1="263.00" x2="384.55" y2="269.50" stroke="#000" stroke-width="1.3" stroke-linecap="butt"/>
<line x1="381.25" y1="263.00" x2="387.85" y2="263.00" stroke="#000" stroke-width="1.3" stroke-linecap="butt"/>
<line x1="381.25" y1="269.50" x2="387.85" y2="269.50" stroke="#000" stroke-width="1.3" stroke-linecap="butt"/>
<rect x="381.65" y="263.50" width="5.80" height="5.80" fill="#000"/>
<line x1="396.85" y1="272.00" x2="396.85" y2="282.50" stroke="#000" stroke-width="1.3" stroke-linecap="butt"/>
<line x1="393.55" y1="272.00" x2="400.15" y2="272.00" stroke="#000" stroke-width="1.3" stroke-linecap="butt"/>
<line x1="393.55" y1="282.50" x2="400.15" y2="282.50" stroke="#000" stroke-width="1.3" stroke-linecap="butt"/>
<rect x="393.95" y="274.70" width="5.80" height="5.80" fill="#000"/>
<line x1="409.15" y1="293.50" x2="409.15" y2="301.00" stroke="#000" stroke-width="1.3" stroke-linecap="butt"/>
<line x1="405.85" y1="293.50" x2="412.45" y2="293.50" stroke="#000" stroke-width="1.3" stroke-linecap="butt"/>
<line x1="405.85" y1="301.00" x2="412.45" y2="301.00" stroke="#000" stroke-width="1.3" stroke-linecap="butt"/>
<rect x="406.25" y="294.60" width="5.80" height="5.80" fill="#000"/>
<rect x="418.55" y="337.80" width="5.80" height="5.80" fill="#000"/>
<line x1="433.75" y1="341.00" x2="433.75" y2="347.50" stroke="#000" stroke-width="1.3" stroke-linecap="butt"/>
<line x1="430.45" y1="341.00" x2="437.05" y2="341.00" stroke="#000" stroke-width="1.3" stroke-linecap="butt"/>
<line x1="430.45" y1="347.50" x2="437.05" y2="347.50" stroke="#000" stroke-width="1.3" stroke-linecap="butt"/>
<rect x="430.85" y="341.60" width="5.80" height="5.80" fill="#000"/>
<rect x="443.15" y="344.30" width="5.80" height="5.80" fill="#000"/>
<rect x="455.45" y="343.80" width="5.80" height="5.80" fill="#000"/>
<rect x="467.75" y="343.80" width="5.80" height="5.80" fill="#000"/>
<polygon points="307.35,250.00 314.15,250.00 310.75,244.00" fill="#000"/>
<line x1="359.95" y1="248.80" x2="359.95" y2="262.50" stroke="#000" stroke-width="1.3" stroke-linecap="butt"/>
<line x1="356.65" y1="248.80" x2="363.25" y2="248.80" stroke="#000" stroke-width="1.3" stroke-linecap="butt"/>
<line x1="356.65" y1="262.50" x2="363.25" y2="262.50" stroke="#000" stroke-width="1.3" stroke-linecap="butt"/>
<polygon points="356.55,259.50 363.35,259.50 359.95,253.50" fill="#000"/>
<line x1="372.25" y1="246.30" x2="372.25" y2="254.00" stroke="#000" stroke-width="1.3" stroke-linecap="butt"/>
<line x1="368.95" y1="246.30" x2="375.55" y2="246.30" stroke="#000" stroke-width="1.3" stroke-linecap="butt"/>
<line x1="368.95" y1="254.00" x2="375.55" y2="254.00" stroke="#000" stroke-width="1.3" stroke-linecap="butt"/>
<polygon points="368.85,253.60 375.65,253.60 372.25,247.60" fill="#000"/>
<line x1="384.55" y1="260.00" x2="384.55" y2="267.00" stroke="#000" stroke-width="1.3" stroke-linecap="butt"/>
<line x1="381.25" y1="260.00" x2="387.85" y2="260.00" stroke="#000" stroke-width="1.3" stroke-linecap="butt"/>
<line x1="381.25" y1="267.00" x2="387.85" y2="267.00" stroke="#000" stroke-width="1.3" stroke-linecap="butt"/>
<polygon points="381.15,266.80 387.95,266.80 384.55,260.80" fill="#000"/>
<line x1="396.85" y1="250.40" x2="396.85" y2="255.20" stroke="#000" stroke-width="1.3" stroke-linecap="butt"/>
<line x1="393.55" y1="250.40" x2="400.15" y2="250.40" stroke="#000" stroke-width="1.3" stroke-linecap="butt"/>
<line x1="393.55" y1="255.20" x2="400.15" y2="255.20" stroke="#000" stroke-width="1.3" stroke-linecap="butt"/>
<polygon points="393.45,255.80 400.25,255.80 396.85,249.80" fill="#000"/>
<line x1="409.15" y1="249.80" x2="409.15" y2="254.60" stroke="#000" stroke-width="1.3" stroke-linecap="butt"/>
<line x1="405.85" y1="249.80" x2="412.45" y2="249.80" stroke="#000" stroke-width="1.3" stroke-linecap="butt"/>
<line x1="405.85" y1="254.60" x2="412.45" y2="254.60" stroke="#000" stroke-width="1.3" stroke-linecap="butt"/>
<polygon points="405.75,255.20 412.55,255.20 409.15,249.20" fill="#000"/>
<line x1="421.45" y1="253.80" x2="421.45" y2="264.30" stroke="#000" stroke-width="1.3" stroke-linecap="butt"/>
<line x1="418.15" y1="253.80" x2="424.75" y2="253.80" stroke="#000" stroke-width="1.3" stroke-linecap="butt"/>
<line x1="418.15" y1="264.30" x2="424.75" y2="264.30" stroke="#000" stroke-width="1.3" stroke-linecap="butt"/>
<polygon points="418.05,262.40 424.85,262.40 421.45,256.40" fill="#000"/>
<line x1="433.75" y1="275.00" x2="433.75" y2="284.50" stroke="#000" stroke-width="1.3" stroke-linecap="butt"/>
<line x1="430.45" y1="275.00" x2="437.05" y2="275.00" stroke="#000" stroke-width="1.3" stroke-linecap="butt"/>
<line x1="430.45" y1="284.50" x2="437.05" y2="284.50" stroke="#000" stroke-width="1.3" stroke-linecap="butt"/>
<polygon points="430.35,283.00 437.15,283.00 433.75,277.00" fill="#000"/>
<line x1="446.05" y1="303.70" x2="446.05" y2="311.00" stroke="#000" stroke-width="1.3" stroke-linecap="butt"/>
<line x1="442.75" y1="303.70" x2="449.35" y2="303.70" stroke="#000" stroke-width="1.3" stroke-linecap="butt"/>
<line x1="442.75" y1="311.00" x2="449.35" y2="311.00" stroke="#000" stroke-width="1.3" stroke-linecap="butt"/>
<polygon points="442.65,310.30 449.45,310.30 446.05,304.30" fill="#000"/>
<polygon points="454.95,315.30 461.75,315.30 458.35,309.30" fill="#000"/>
<polygon points="467.25,324.00 474.05,324.00 470.65,318.00" fill="#000"/>
<polygon points="479.55,329.30 486.35,329.30 482.95,323.30" fill="#000"/>
<polygon points="491.85,341.00 498.65,341.00 495.25,335.00" fill="#000"/>
</g>
</svg>
</body>
</html>
